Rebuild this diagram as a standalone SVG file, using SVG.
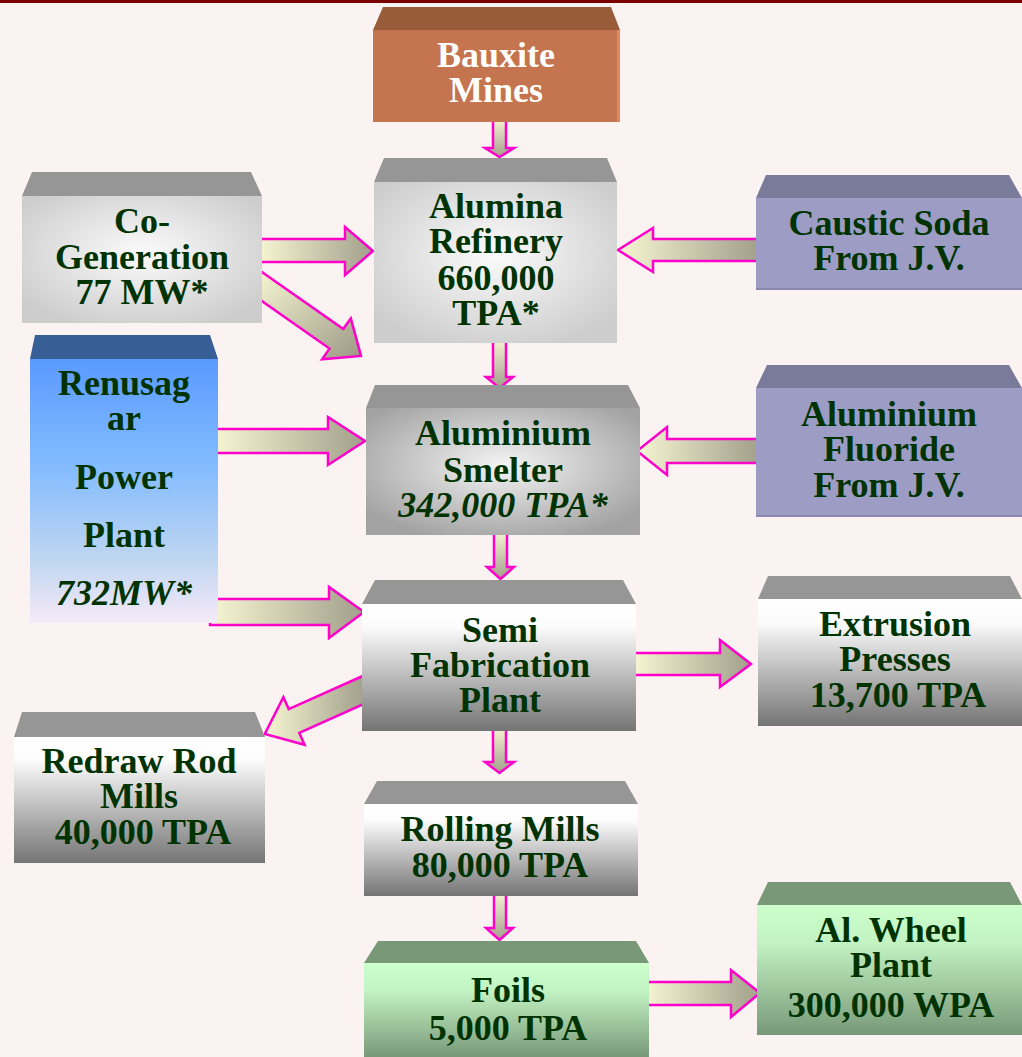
<svg xmlns="http://www.w3.org/2000/svg" width="1022" height="1057" viewBox="0 0 1022 1057">
<defs>
<radialGradient id="gLight" cx="50%" cy="45%" r="62%"><stop offset="0" stop-color="#fbfbfb"/><stop offset="1" stop-color="#cdcdcd"/></radialGradient>
<radialGradient id="gMid" cx="50%" cy="45%" r="62%"><stop offset="0" stop-color="#f4f4f4"/><stop offset="1" stop-color="#a2a2a2"/></radialGradient>
<linearGradient id="gSteel" x1="0" y1="0" x2="0" y2="1"><stop offset="0" stop-color="#ffffff"/><stop offset="0.18" stop-color="#fcfcfc"/><stop offset="1" stop-color="#747474"/></linearGradient>
<linearGradient id="gBlue" x1="0" y1="0" x2="0" y2="1"><stop offset="0" stop-color="#5a9aff"/><stop offset="0.4" stop-color="#82bbff"/><stop offset="0.75" stop-color="#bdd5f1"/><stop offset="1" stop-color="#f6eaf8"/></linearGradient>
<linearGradient id="gGreen" x1="0" y1="0" x2="0" y2="1"><stop offset="0" stop-color="#ccffcc"/><stop offset="0.3" stop-color="#c2f2c2"/><stop offset="1" stop-color="#789878"/></linearGradient>
<linearGradient id="aH" x1="0" y1="0" x2="1" y2="0"><stop offset="0" stop-color="#f6f6d2"/><stop offset="1" stop-color="#a29f8b"/></linearGradient>
<linearGradient id="aV" x1="0" y1="0" x2="0" y2="1"><stop offset="0" stop-color="#f2f2d0"/><stop offset="1" stop-color="#a29f8b"/></linearGradient>
<linearGradient id="aD" x1="0" y1="0" x2="1" y2="1"><stop offset="0" stop-color="#f6f6d2"/><stop offset="1" stop-color="#9c9985"/></linearGradient>
</defs>
<style>
.t{font-family:"Liberation Serif","Times New Roman",serif;font-weight:bold;font-size:36px;fill:#003300;text-anchor:middle}
.i{font-style:italic}
.w{fill:#ffffff}
.ah{fill:url(#aH);stroke:#ff00cc;stroke-width:2.5;stroke-linejoin:miter}
.av{fill:url(#aV);stroke:#ff00cc;stroke-width:2.5;stroke-linejoin:miter}
.ad{fill:url(#aD);stroke:#ff00cc;stroke-width:2.5;stroke-linejoin:miter}
.topG{fill:#969696}
.topL{fill:#7a7a9a}
.topB{fill:#385e96}
.topO{fill:#985c3a}
.topGr{fill:#799878}
.fL{fill:url(#gLight)}
.fM{fill:url(#gMid)}
.fS{fill:url(#gSteel)}
.fV{fill:#9c9cc5}
.fB{fill:url(#gBlue)}
.fGr{fill:url(#gGreen)}
.fO{fill:#c4744e}
</style>
<rect x="0" y="0" width="1022" height="1057" fill="#faf3f1"/>
<rect x="0" y="0" width="1022" height="3" fill="#7a0000"/>

<g id="connectors">
<!-- vertical arrows -->
<polygon class="av" points="493,120 506,120 506,148 514,148 499.5,157 485,148 493,148"/>
<polygon class="av" points="493,341 506,341 506,377 513,377 499.5,388 486,377 493,377"/>
<polygon class="av" points="494,533 507,533 507,567 514,567 500.5,579 487,567 494,567"/>
<polygon class="av" points="493,729 506,729 506,762 514,762 499.5,773 485,762 493,762"/>
<polygon class="av" points="494,894 506,894 506,928 513,928 499.5,940 486,928 494,928"/>
<!-- horizontal arrows -->
<polygon class="ah" points="259,239 345,239 345,227 373,251 345,275 345,262 259,262"/>
<polygon class="ah" points="759,239 653,239 653,228 618,250 653,272 653,261 759,261"/>
<polygon class="ah" points="215,429 328,429 328,417 365,441 328,465 328,453 215,453"/>
<polygon class="ah" points="759,439 667,439 667,427 637,451 667,475 667,463 759,463"/>
<polygon class="ah" points="210,599 329,599 329,587 364,612 329,638 329,625 210,625"/>
<polygon class="ah" points="633,653 720,653 720,640 751,664 720,687 720,675 633,675"/>
<polygon class="ah" points="645,982 731,982 731,970 760,993 731,1017 731,1005 645,1005"/>
<!-- diagonal arrows -->
<polygon class="ad" points="259,270 343.3,329 350.8,318.3 361,356 322.1,359.3 329.5,348.6 259,299"/>
<polygon class="ah" points="365,675 288.7,709.1 283.4,697.2 264.8,734 304.6,744.8 299.3,732.9 365,703.5"/>
</g>

<g id="bauxite">
<polygon class="topO" points="383,7 611,7 620,30 373,30"/>
<rect class="fO" x="373" y="30" width="247" height="92"/>
<rect x="617" y="30" width="3" height="92" fill="#e08a5c"/>
<text class="t w" x="496" y="67">Bauxite</text>
<text class="t w" x="496" y="102">Mines</text>
</g>

<g id="cogen">
<polygon class="topG" points="32,172 251,172 262,196 22,196"/>
<rect class="fL" x="22" y="196" width="240" height="127"/>
<text class="t" x="142" y="233">Co-</text>
<text class="t" x="142" y="269">Generation</text>
<text class="t" x="142" y="304">77 MW*</text>
</g>

<g id="alumina">
<polygon class="topG" points="384,158 607,158 617,182 374,182"/>
<rect class="fL" x="374" y="182" width="243" height="161"/>
<text class="t" x="496" y="218">Alumina</text>
<text class="t" x="496" y="253">Refinery</text>
<text class="t" x="496" y="290">660,000</text>
<text class="t" x="496" y="325">TPA*</text>
</g>

<g id="caustic">
<polygon class="topL" points="766,175 1009,175 1022,198 756,198"/>
<rect class="fV" x="756" y="198" width="266" height="92"/>
<rect x="756" y="288" width="266" height="2" fill="#8888b0"/>
<text class="t" x="889" y="235">Caustic Soda</text>
<text class="t" x="889" y="270">From J.V.</text>
</g>

<g id="renusagar">
<polygon class="topB" points="35,335 210,335 218,359 30,359"/>
<rect class="fB" x="30" y="359" width="188" height="264"/>
<text class="t" x="124" y="395">Renusag</text>
<text class="t" x="124" y="430">ar</text>
<text class="t" x="124" y="489">Power</text>
<text class="t" x="124" y="547">Plant</text>
<text class="t i" x="124" y="605">732MW*</text>
</g>

<g id="smelter">
<polygon class="topG" points="375,385 628,385 640,408 366,408"/>
<rect class="fM" x="366" y="408" width="274" height="127"/>
<text class="t" x="503" y="445">Aluminium</text>
<text class="t" x="503" y="482">Smelter</text>
<text class="t i" x="503" y="517">342,000 TPA*</text>
</g>

<g id="fluoride">
<polygon class="topL" points="767,365 1009,365 1022,388 756,388"/>
<rect class="fV" x="756" y="388" width="266" height="129"/>
<rect x="756" y="515" width="266" height="2" fill="#8888b0"/>
<text class="t" x="889" y="426">Aluminium</text>
<text class="t" x="889" y="461">Fluoride</text>
<text class="t" x="889" y="497">From J.V.</text>
</g>

<g id="semi">
<polygon class="topG" points="375,580 623,580 636,604 362,604"/>
<rect class="fS" x="362" y="604" width="274" height="127"/>
<text class="t" x="500" y="642">Semi</text>
<text class="t" x="500" y="677">Fabrication</text>
<text class="t" x="500" y="712">Plant</text>
</g>

<g id="extrusion">
<polygon class="topG" points="768,576 1010,576 1022,599 758,599"/>
<rect class="fS" x="758" y="599" width="264" height="127"/>
<text class="t" x="895" y="636">Extrusion</text>
<text class="t" x="895" y="671">Presses</text>
<text class="t" x="898" y="707">13,700 TPA</text>
</g>

<g id="redraw">
<polygon class="topG" points="22,712 255,712 265,737 14,737"/>
<rect class="fS" x="14" y="737" width="251" height="126"/>
<text class="t" x="139" y="773">Redraw Rod</text>
<text class="t" x="139" y="808">Mills</text>
<text class="t" x="143" y="844">40,000 TPA</text>
</g>

<g id="rolling">
<polygon class="topG" points="377,781 625,781 638,804 364,804"/>
<rect class="fS" x="364" y="804" width="274" height="92"/>
<text class="t" x="500" y="841">Rolling Mills</text>
<text class="t" x="500" y="877">80,000 TPA</text>
</g>

<g id="foils">
<polygon class="topGr" points="378,941 636,941 649,963 364,963"/>
<rect class="fGr" x="364" y="963" width="285" height="94"/>
<text class="t" x="508" y="1002">Foils</text>
<text class="t" x="508" y="1040">5,000 TPA</text>
</g>

<g id="wheel">
<polygon class="topGr" points="768,882 1010,882 1022,905 757,905"/>
<rect class="fGr" x="757" y="905" width="265" height="130"/>
<text class="t" x="891" y="942">Al. Wheel</text>
<text class="t" x="891" y="977">Plant</text>
<text class="t" x="891" y="1017">300,000 WPA</text>
</g>
</svg>
